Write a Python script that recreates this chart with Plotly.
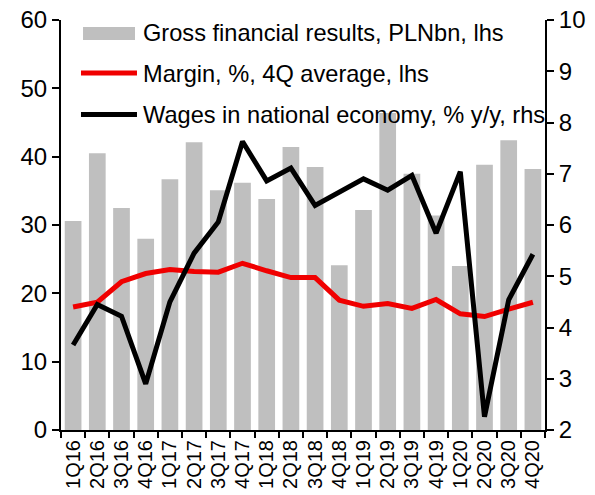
import plotly.graph_objects as go

# Quarterly data, 1Q16-4Q20
quarters = [
    "1Q16", "2Q16", "3Q16", "4Q16",
    "1Q17", "2Q17", "3Q17", "4Q17",
    "1Q18", "2Q18", "3Q18", "4Q18",
    "1Q19", "2Q19", "3Q19", "4Q19",
    "1Q20", "2Q20", "3Q20", "4Q20",
]
gross_results = [30.6, 40.5, 32.5, 28.0, 36.7, 42.1, 35.1, 36.2, 33.8, 41.4,
                 38.5, 24.1, 32.2, 46.4, 37.5, 31.4, 24.0, 38.8, 42.4, 38.2]
margin_4q_avg = [18.0, 18.7, 21.7, 22.9, 23.5, 23.2, 23.1, 24.4, 23.3, 22.3,
                 22.3, 19.0, 18.1, 18.5, 17.8, 19.1, 17.0, 16.6, 17.7, 18.7]
wages_yy = [3.66, 4.45, 4.22, 2.90, 4.50, 5.45, 6.06, 7.63, 6.86, 7.11,
            6.38, 6.64, 6.90, 6.68, 6.97, 5.84, 7.04, 2.26, 4.54, 5.43]

legend_labels = [
    "Gross financial results, PLNbn, lhs",
    "Margin, %, 4Q average, lhs",
    "Wages in national economy, % y/y, rhs",
]

BAR_GREY = "#bfbfbf"
RED = "#f00000"
BLACK = "#000000"
FONT = "Liberation Sans, Arial, sans-serif"

fig = go.Figure()
fig.add_trace(go.Bar(x=quarters, y=gross_results, marker_color=BAR_GREY,
                     marker_line_width=0, name=legend_labels[0]))
fig.add_trace(go.Scatter(x=quarters, y=margin_4q_avg, mode="lines",
                         line=dict(color=RED, width=5), name=legend_labels[1]))
fig.add_trace(go.Scatter(x=quarters, y=wages_yy, mode="lines", yaxis="y2",
                         line=dict(color=BLACK, width=5), name=legend_labels[2]))

# Legend drawn by hand: swatches + labels in the upper-left of the plot area
shapes = [
    dict(type="rect", xref="paper", yref="paper", x0=0.0455, x1=0.1529,
         y0=0.9512, y1=0.9829, fillcolor=BAR_GREY, line_width=0, layer="above"),
    dict(type="line", xref="paper", yref="paper", x0=0.0413, x1=0.157,
         y0=0.8707, y1=0.8707, line=dict(color=RED, width=5), layer="above"),
    dict(type="line", xref="paper", yref="paper", x0=0.0413, x1=0.157,
         y0=0.7695, y1=0.7695, line=dict(color=BLACK, width=5), layer="above"),
]
annotations = [
    dict(xref="paper", yref="paper", x=0.1653, y=yy, text=t, showarrow=False,
         xanchor="left", yanchor="middle", font=dict(size=23.6, color="black", family=FONT))
    for yy, t in zip([0.9683, 0.8695, 0.7695], legend_labels)
]

axis_common = dict(showgrid=False, zeroline=False, showline=True, linecolor="black",
                   linewidth=2, ticks="outside", tickcolor="black", tickwidth=2)

fig.update_layout(
    width=595, height=495,
    margin=dict(l=61, r=50, t=20, b=65),
    paper_bgcolor="white", plot_bgcolor="white",
    showlegend=False,
    bargap=0.31,
    font=dict(family=FONT, size=24, color="black"),
    xaxis=dict(**axis_common, type="category", tickson="boundaries", ticklen=6,
               tickmode="linear", dtick=1, automargin=False,
               tickangle=-90, tickfont=dict(size=20, color="black", family=FONT)),
    yaxis=dict(**axis_common, range=[0, 60], dtick=10, ticklen=7, automargin=False,
               tickfont=dict(size=24, color="black", family=FONT)),
    yaxis2=dict(**axis_common, range=[2, 10], dtick=1, ticklen=7, automargin=False,
                overlaying="y", side="right",
                tickfont=dict(size=24, color="black", family=FONT)),
    shapes=shapes,
    annotations=annotations,
)

fig.write_html("out.html")
